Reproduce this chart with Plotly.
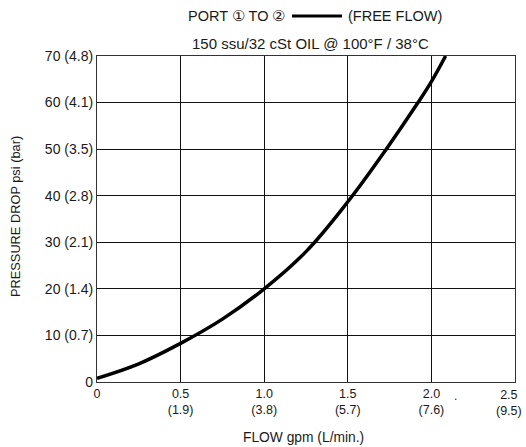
import plotly.graph_objects as go

flow_gpm = [0, 0.25, 0.5, 0.75, 1.0, 1.25, 1.5, 1.73, 1.92, 2.0, 2.085]
pressure_psi = [0.8, 3.9, 8.3, 13.5, 20, 28.0, 38.7, 50, 60, 64.5, 70]

x_tickvals = [0, 0.5, 1.0, 1.5, 2.0, 2.5]
x_ticktext = ["0", "0.5<br>(1.9)", "1.0<br>(3.8)", "1.5<br>(5.7)", "2.0<br>(7.6)", ""]
x_last_label = "2.5<br>(9.5)"
y_tickvals = [0, 10, 20, 30, 40, 50, 60, 70]
y_ticktext = ["0", "10 (0.7)", "20 (1.4)", "30 (2.1)", "40 (2.8)", "50 (3.5)", "60 (4.1)", "70 (4.8)"]

FONT = "Liberation Sans, Arial, Helvetica, sans-serif"
W, H = 526, 447
ML, MR, MT, MB = 97, 11, 56, 65
pw = W - ML - MR
ph = H - MT - MB


def px(xp):
    return (xp - ML) / pw


def py(yp):
    return (H - yp - MB) / ph


fig = go.Figure()
fig.add_trace(go.Scatter(
    x=flow_gpm, y=pressure_psi, mode="lines",
    line=dict(color="black", width=3.5, shape="spline", smoothing=1.1),
    showlegend=False, hoverinfo="skip",
))

fig.update_layout(
    width=W, height=H,
    margin=dict(l=ML, r=MR, t=MT, b=MB, autoexpand=False),
    paper_bgcolor="white", plot_bgcolor="white",
    font=dict(family=FONT, size=13, color="#1a1a1a"),
    xaxis=dict(
        range=[0, 2.5], tickvals=x_tickvals, ticktext=x_ticktext,
        showgrid=True, gridcolor="#111", gridwidth=1,
        showline=True, linecolor="#333", linewidth=1.2, mirror=True,
        zeroline=False, ticks="", tickfont=dict(size=12.5), automargin=False,
        ticklabeloverflow="allow",
    ),
    yaxis=dict(
        range=[0, 70], tickvals=y_tickvals, ticktext=y_ticktext,
        showgrid=True, gridcolor="#111", gridwidth=1,
        showline=True, linecolor="#333", linewidth=1.2, mirror=True,
        zeroline=False, ticks="", tickfont=dict(size=14), automargin=False,
        ticklabeloverflow="allow",
    ),
    annotations=[
        dict(text=x_last_label, x=x_tickvals[-1], y=py(403), xref="x", yref="paper",
             showarrow=False, xanchor="right", yanchor="middle", align="center",
             xshift=8, borderpad=0, font=dict(size=12.5)),
        dict(text="PORT ① TO ②", x=px(287), y=py(16), xref="paper", yref="paper",
             showarrow=False, xanchor="right", yanchor="middle", font=dict(size=14.5)),
        dict(text="(FREE FLOW)", x=px(346), y=py(16), xref="paper", yref="paper",
             showarrow=False, xanchor="left", yanchor="middle", font=dict(size=14.5)),
        dict(text="150 ssu/32 cSt OIL @ 100°F / 38°C", x=px(310), y=py(43), xref="paper", yref="paper",
             showarrow=False, xanchor="center", yanchor="middle", font=dict(size=15)),
        dict(text="FLOW gpm (L/min.)", x=px(303), y=py(437), xref="paper", yref="paper",
             showarrow=False, xanchor="center", yanchor="middle", font=dict(size=13.8)),
        dict(text="PRESSURE DROP psi (bar)", x=px(15), y=py(217), xref="paper", yref="paper",
             showarrow=False, xanchor="center", yanchor="middle", textangle=-90, font=dict(size=12.8)),
        dict(text=".", x=px(455), y=py(396), xref="paper", yref="paper",
             showarrow=False, xanchor="center", yanchor="middle", font=dict(size=12)),
    ],
)

fig.add_shape(type="line", xref="paper", yref="paper",
              x0=px(292), x1=px(342), y0=py(16), y1=py(16),
              line=dict(color="black", width=3))

fig.write_html("out.html", config={"displayModeBar": False},
               post_script="document.body.style.margin='0';document.body.style.overflow='hidden';")
